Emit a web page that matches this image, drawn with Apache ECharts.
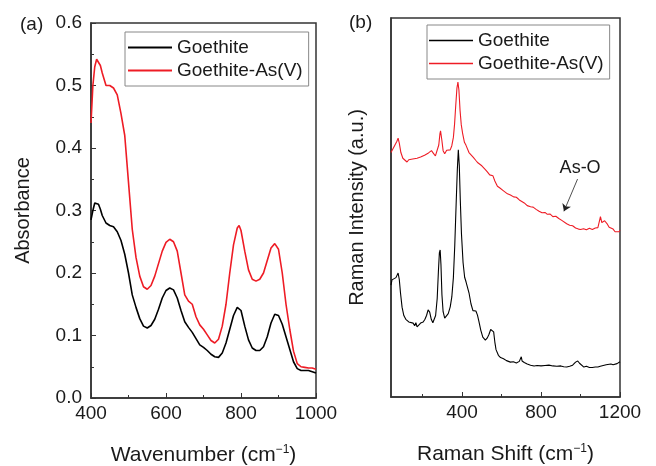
<!DOCTYPE html>
<html>
<head>
<meta charset="utf-8">
<script src="https://cdn.jsdelivr.net/npm/echarts@6/dist/echarts.min.js"></script>
<style>
  html, body { margin: 0; padding: 0; background: #fff; }
  #chart { width: 656px; height: 466px; }
</style>
</head>
<body>
<div id="chart"></div>
<script>
// (a) UV-vis absorbance
var uvWave = [400, 405, 410, 415, 420, 425, 430, 440, 450, 460, 470, 480, 490, 500, 510, 520, 530, 540, 550, 560,
  570, 580, 590, 600, 610, 620, 630, 640, 650, 660, 670, 680, 690, 700, 710, 720, 730, 740, 750, 760,
  770, 780, 790, 795, 800, 810, 820, 830, 840, 850, 860, 870, 880, 890, 900, 910, 920, 930, 940, 950,
  960, 970, 980, 990, 1000];
var uvGoethite = [0.285, 0.300, 0.312, 0.315, 0.310, 0.302, 0.292, 0.280, 0.276, 0.274, 0.266, 0.252, 0.230, 0.200, 0.165, 0.145, 0.127, 0.115, 0.112, 0.116,
  0.126, 0.142, 0.160, 0.172, 0.176, 0.173, 0.160, 0.140, 0.122, 0.113, 0.105, 0.095, 0.085, 0.081, 0.076, 0.070, 0.066, 0.065, 0.072, 0.088,
  0.110, 0.132, 0.145, 0.146, 0.140, 0.115, 0.093, 0.080, 0.076, 0.076, 0.082, 0.098, 0.120, 0.134, 0.132, 0.118, 0.098, 0.078, 0.058, 0.047,
  0.044, 0.044, 0.044, 0.042, 0.040];
var uvGoethiteAs = [0.440, 0.500, 0.530, 0.542, 0.540, 0.532, 0.520, 0.500, 0.500, 0.496, 0.485, 0.455, 0.420, 0.345, 0.270, 0.225, 0.195, 0.178, 0.174, 0.180,
  0.195, 0.215, 0.235, 0.249, 0.254, 0.250, 0.235, 0.200, 0.165, 0.155, 0.150, 0.130, 0.117, 0.110, 0.101, 0.092, 0.088, 0.094, 0.115, 0.150,
  0.200, 0.245, 0.272, 0.276, 0.268, 0.235, 0.205, 0.190, 0.187, 0.190, 0.200, 0.220, 0.240, 0.247, 0.238, 0.200, 0.150, 0.110, 0.075, 0.055,
  0.050, 0.049, 0.048, 0.048, 0.046];

// (b) Raman spectra, intensity in arbitrary units
var ramanShiftGoethite = [40, 45, 55, 65, 76, 82, 88, 96, 105, 115, 121, 130, 140, 152, 160, 166, 172, 180, 190, 203,
  212, 220, 228, 236, 244, 252, 259, 266, 274, 280, 285, 289, 293, 298, 304, 312, 320, 330, 340, 348,
  356, 363, 370, 376, 381, 386, 391, 397, 405, 413, 420, 427, 435, 445, 455, 463, 470, 478, 485, 495,
  505, 518, 528, 536, 545, 554, 560, 566, 572, 584, 595, 610, 625, 645, 660, 675, 690, 696, 700, 704,
  715, 730, 747, 765, 780, 800, 820, 840, 860, 880, 900, 915, 930, 945, 960, 975, 986, 995, 1005, 1017,
  1030, 1045, 1060, 1075, 1088, 1100, 1115, 1130, 1140, 1154, 1165, 1175, 1185, 1195, 1200];
var ramanGoethite = [29.5, 30.9, 30.5, 31.5, 32.7, 31, 27.5, 23.7, 21.5, 20.5, 20.3, 19.8, 19.9, 19.5, 18.8, 19.6, 18.5, 18.9, 19.5, 19.8,
  20.5, 21.5, 23, 22.4, 20.5, 19.6, 19.5, 21.5, 26, 33, 38, 38.8, 35, 27, 22.5, 20.8, 20.9, 22, 23.8, 26.4,
  31.5, 40, 51, 60, 65.2, 61, 52, 43, 35.5, 31.6, 30.4, 30.5, 27.5, 24.6, 22.8, 22.4, 22.7, 21.6, 20, 17.6,
  15.8, 15, 15.6, 16.5, 17.8, 18.3, 17.2, 14.5, 12.5, 11, 10.4, 10.1, 9.6, 9.2, 9.3, 9, 9.4, 9.8, 10.6, 9.5,
  9.1, 8.7, 8.4, 8.2, 8.3, 8.2, 8.3, 8.4, 8.2, 8.1, 8.2, 8, 7.9, 8.1, 8.4, 9.2, 9.5, 8.9, 8.4, 7.9,
  8.1, 7.8, 7.8, 7.9, 7.9, 8.1, 8.3, 8.5, 8.2, 8.7, 8.5, 8.9, 8.8, 9.2, 9.3];
var ramanShiftAs = [40, 50, 60, 70, 76, 82, 90, 100, 110, 121, 130, 140, 150, 160, 172, 180, 190, 200, 210, 220,
  230, 238, 245, 255, 265, 274, 282, 288, 291, 297, 304, 312, 322, 330, 340, 348, 356, 362, 368, 374,
  379, 384, 390, 396, 403, 412, 420, 427, 435, 445, 457, 470, 480, 490, 500, 508, 518, 528, 540, 548,
  556, 566, 579, 590, 600, 610, 620, 630, 645, 661, 675, 690, 700, 715, 730, 747, 760, 775, 790, 805,
  820, 832, 845, 860, 875, 890, 905, 915, 930, 945, 960, 975, 990, 1001, 1015, 1030, 1045, 1060, 1075, 1088,
  1096, 1101, 1108, 1115, 1122, 1128, 1136, 1145, 1155, 1165, 1175, 1185, 1195, 1200];
var ramanGoethiteAs = [64.5, 65.5, 66, 67.5, 68.3, 67, 64.5, 63, 62.5, 62, 62.6, 62.1, 62.8, 62.4, 63, 62.6, 63.3, 63, 63.8, 63.5,
  64.4, 64.2, 65, 64.3, 63.6, 63.9, 66.5, 69.5, 70.2, 68, 65, 64.2, 65.1, 64.7, 65.2, 66.3, 68.5, 72, 77, 81.5,
  83.1, 81, 75.5, 71.8, 69.5, 67.2, 66.4, 66, 64.5, 64, 63.2, 62.4, 61.8, 61.3, 61, 60.6, 60, 59.4, 58.6, 59,
  58.4, 57, 55.6, 55.2, 54.8, 54.4, 54.6, 53.6, 53.3, 52.8, 52.7, 52, 51.6, 51.2, 50.5, 50.2, 50.1, 49.5, 49, 48.6,
  48.7, 48.2, 48.3, 47.6, 47.7, 47.1, 46.6, 46.3, 45.7, 45.3, 45.2, 44.6, 44.3, 44.2, 44.4, 44.1, 44.5, 44.2, 44.6, 44.7,
  46.5, 47.6, 46, 45.5, 46.5, 46.8, 45.6, 44.8, 44.4, 44.3, 43.6, 43.9, 43.6, 44];

var seriesNames = ['Goethite', 'Goethite-As(V)'];
var ramanMajorTicks = [400, 800, 1200];
var ramanMinorTicks = [200, 600, 1000];

function pairs(xs, ys) {
  return xs.map(function (x, i) { return [x, ys[i]]; });
}

var FONT = 'Liberation Sans, Arial, sans-serif';
var INK = '#1a1a1a';
var FRAME = '#333';
var RED = '#ee1c25';

var chart = echarts.init(document.getElementById('chart'), null, { renderer: 'canvas' });

var nameRich = {
  sup: { fontSize: 12, verticalAlign: 'top', padding: [0, 0, 10, 0], fontFamily: FONT, color: INK }
};

var option = {
  animation: false,
  backgroundColor: '#fff',
  textStyle: { fontFamily: FONT, color: INK },
  title: [
    { text: '(a)', left: 15, top: 10, textStyle: { fontSize: 19, fontWeight: 'normal', fontFamily: FONT, color: INK } },
    { text: '(b)', left: 344, top: 8, textStyle: { fontSize: 19, fontWeight: 'normal', fontFamily: FONT, color: INK } }
  ],
  legend: [
    {
      data: seriesNames, orient: 'vertical', left: 125, top: 32,
      icon: 'rect', itemWidth: 44, itemHeight: 2, itemGap: 2,
      padding: [5, 6, 5, 3], borderColor: '#888', borderWidth: 1,
      textStyle: { fontSize: 19, fontFamily: FONT, color: INK, lineHeight: 21 },
      selectedMode: false
    },
    {
      data: seriesNames, orient: 'vertical', left: 427, top: 25,
      icon: 'rect', itemWidth: 44, itemHeight: 1.5, itemGap: 2,
      padding: [5, 6, 5, 2], borderColor: '#888', borderWidth: 1,
      textStyle: { fontSize: 19, fontFamily: FONT, color: INK, lineHeight: 21 },
      selectedMode: false
    }
  ],
  grid: [
    { left: 91, top: 23, right: 340, bottom: 68, show: true, borderColor: FRAME, borderWidth: 1.5, backgroundColor: 'transparent', containLabel: false, outerBoundsMode: 'none' },
    { left: 391, top: 18, right: 36, bottom: 69, show: true, borderColor: FRAME, borderWidth: 1.5, backgroundColor: 'transparent', containLabel: false, outerBoundsMode: 'none' }
  ],
  xAxis: [
    {
      gridIndex: 0, type: 'value', min: 400, max: 1000, interval: 200,
      name: 'Wavenumber (cm{sup|−1})', nameLocation: 'middle', nameGap: 46,
      nameTextStyle: { fontSize: 21, fontFamily: FONT, color: INK, rich: nameRich },
      axisLine: { lineStyle: { color: FRAME, width: 1.5 } },
      axisTick: { inside: true, length: 5, lineStyle: { color: FRAME } },
      minorTick: { show: true, splitNumber: 2, length: 3, lineStyle: { color: FRAME } },
      axisLabel: { fontSize: 19, color: INK, fontFamily: FONT, margin: 6, formatter: function (v) { return String(v); } },
      splitLine: { show: false }
    },
    {
      gridIndex: 1, type: 'value', min: 40, max: 1200,
      name: 'Raman Shift (cm{sup|−1})', nameLocation: 'middle', nameGap: 46,
      nameTextStyle: { fontSize: 21, fontFamily: FONT, color: INK, rich: nameRich },
      axisLine: { lineStyle: { color: FRAME, width: 1.5 } },
      axisTick: { inside: true, length: 5, customValues: ramanMajorTicks, lineStyle: { color: FRAME } },
      axisLabel: { fontSize: 19, color: INK, fontFamily: FONT, margin: 6, customValues: ramanMajorTicks, formatter: function (v) { return String(v); } },
      splitLine: { show: false }
    },
    {
      // minor ticks of panel (b)
      gridIndex: 1, type: 'value', min: 40, max: 1200, position: 'bottom',
      axisLine: { show: false },
      axisTick: { inside: true, length: 3, customValues: ramanMinorTicks, lineStyle: { color: FRAME } },
      axisLabel: { show: false },
      splitLine: { show: false }
    }
  ],
  yAxis: [
    {
      gridIndex: 0, type: 'value', min: 0, max: 0.6, interval: 0.1,
      name: 'Absorbance', nameLocation: 'middle', nameGap: 58,
      nameTextStyle: { fontSize: 20, fontFamily: FONT, color: INK },
      axisLine: { show: true, lineStyle: { color: FRAME, width: 1.5 } },
      axisTick: { show: true, inside: true, length: 5, lineStyle: { color: FRAME } },
      minorTick: { show: true, splitNumber: 2, length: 3, lineStyle: { color: FRAME } },
      axisLabel: { fontSize: 19, color: INK, fontFamily: FONT, margin: 9, formatter: function (v) { return v.toFixed(1); } },
      splitLine: { show: false }
    },
    {
      gridIndex: 1, type: 'value', min: 0, max: 100,
      name: 'Raman Intensity (a.u.)', nameLocation: 'middle', nameGap: 24,
      nameTextStyle: { fontSize: 20, fontFamily: FONT, color: INK },
      axisLine: { show: true, lineStyle: { color: FRAME, width: 1.5 } },
      axisTick: { show: false },
      axisLabel: { show: false },
      splitLine: { show: false }
    }
  ],
  series: [
    {
      name: 'Goethite', type: 'line', xAxisIndex: 0, yAxisIndex: 0,
      data: pairs(uvWave, uvGoethite), showSymbol: false, symbol: 'none',
      lineStyle: { color: '#000', width: 1.6 }, itemStyle: { color: '#000' }
    },
    {
      name: 'Goethite-As(V)', type: 'line', xAxisIndex: 0, yAxisIndex: 0,
      data: pairs(uvWave, uvGoethiteAs), showSymbol: false, symbol: 'none',
      lineStyle: { color: RED, width: 1.6 }, itemStyle: { color: RED }
    },
    {
      name: 'Goethite', type: 'line', xAxisIndex: 1, yAxisIndex: 1,
      data: pairs(ramanShiftGoethite, ramanGoethite), showSymbol: false, symbol: 'none',
      lineStyle: { color: '#000', width: 1.1 }, itemStyle: { color: '#000' }
    },
    {
      name: 'Goethite-As(V)', type: 'line', xAxisIndex: 1, yAxisIndex: 1,
      data: pairs(ramanShiftAs, ramanGoethiteAs), showSymbol: false, symbol: 'none',
      lineStyle: { color: RED, width: 1.1 }, itemStyle: { color: RED },
      markLine: {
        silent: true, symbol: ['none', 'arrow'], symbolSize: 7,
        lineStyle: { color: '#222', width: 0.8, type: 'solid' },
        label: { show: false },
        data: [[{ coord: [985, 57.5] }, { coord: [916, 49] }]]
      },
      markPoint: {
        silent: true, symbol: 'circle', symbolSize: 0,
        label: { show: true, formatter: 'As-O', fontSize: 18, color: INK, fontFamily: FONT, position: 'inside' },
        data: [{ coord: [998, 60.5] }]
      }
    }
  ]
};

chart.setOption(option);
</script>
</body>
</html>
